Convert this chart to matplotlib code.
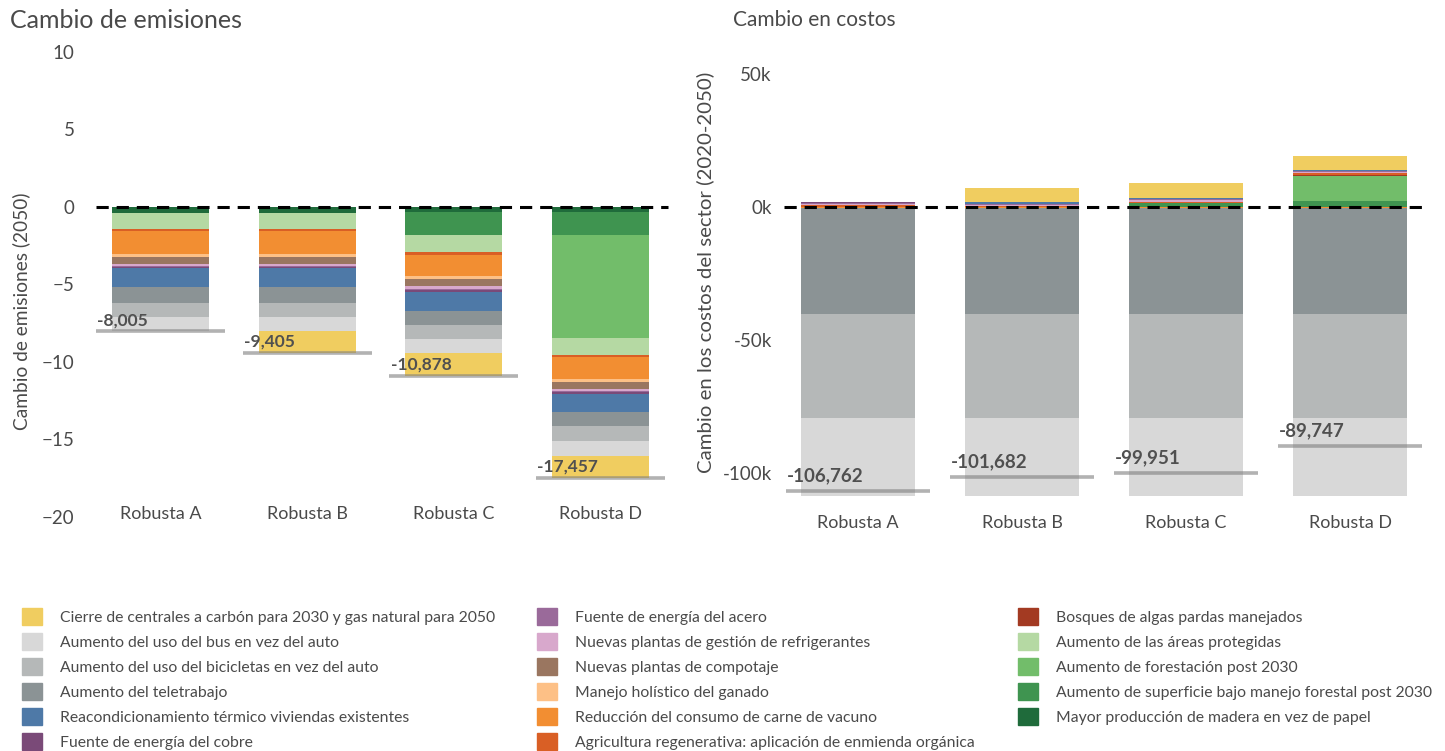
import numpy as np
import matplotlib
matplotlib.use("Agg")
import matplotlib.pyplot as plt
from matplotlib.patches import Patch

plt.rcParams['font.family'] = ['Lato', 'DejaVu Sans']

# ---------------------------------------------------------
#  Datos
# ---------------------------------------------------------
escenarios = ["Robusta A", "Robusta B", "Robusta C", "Robusta D"]

categorias = [
    "Cierre de centrales a carbón para 2030 y gas natural para 2050",
    "Aumento del uso del bus en vez del auto",
    "Aumento del uso del bicicletas en vez del auto",
    "Aumento del teletrabajo",
    "Reacondicionamiento térmico viviendas existentes",
    "Fuente de energía del cobre",
    "Fuente de energía del acero",
    "Nuevas plantas de gestión de refrigerantes",
    "Nuevas plantas de compotaje",
    "Manejo holístico del ganado",
    "Reducción del consumo de carne de vacuno",
    "Agricultura regenerativa: aplicación de enmienda orgánica",
    "Bosques de algas pardas manejados",
    "Aumento de las áreas protegidas",
    "Aumento de forestación post 2030",
    "Aumento de superficie bajo manejo forestal post 2030",
    "Mayor producción de madera en vez de papel",
]

colores = [
    "#f0cd60", "#d8d8d8", "#b5b8b8", "#8b9395", "#4e79a7", "#7a4a78",
    "#9a6a9a", "#d8a8cc", "#9a7660", "#fdc086", "#f28e32", "#d95f25",
    "#a33a22", "#b5d9a3", "#72bd6a", "#3f9450", "#1f6b3b",
]

# Cambio de emisiones (2050), miles, por escenario A-D
emisiones = [
    [0.0, -1.39, -1.46, -1.38],     # carbón
    [-0.91, -0.91, -0.91, -1.00],   # bus
    [-0.94, -0.94, -0.91, -0.96],   # bicicletas
    [-1.02, -1.02, -0.89, -0.91],   # teletrabajo
    [-1.23, -1.23, -1.23, -1.17],   # térmico
    [-0.06, -0.06, -0.11, -0.11],   # cobre
    [-0.05, -0.05, -0.08, -0.06],   # acero
    [-0.15, -0.15, -0.17, -0.11],   # refrigerantes
    [-0.46, -0.46, -0.47, -0.47],   # compostaje
    [-0.17, -0.17, -0.17, -0.21],   # holístico
    [-1.51, -1.51, -1.38, -1.42],   # carne
    [-0.08, -0.08, -0.21, -0.11],   # agricultura
    [0.0, 0.0, 0.0, 0.0],           # algas
    [-1.06, -1.06, -1.06, -1.12],   # áreas protegidas
    [0.0, 0.0, 0.0, -6.60],         # forestación
    [0.0, 0.0, -1.49, -1.49],       # superficie forestal
    [-0.38, -0.38, -0.34, -0.34],   # madera
]
total_emisiones = [-8005, -9405, -10878, -17457]

# Cambio en los costos del sector (2020-2050), miles
costos = [
    [0.0, 5.32, 5.45, 5.20],        # carbón
    [-29.6, -29.6, -29.6, -29.6],   # bus
    [-38.8, -38.8, -38.8, -38.8],   # bicicletas
    [-40.0, -40.0, -40.0, -40.0],   # teletrabajo
    [0.0, 0.5, 0.5, 0.35],          # térmico
    [0.44, 0.0, 0.0, 0.0],          # cobre
    [0.5, 0.4, 0.4, 0.4],           # acero
    [0.5, 0.4, 0.5, 0.5],           # refrigerantes
    [0.0, 0.0, 0.0, 0.0],           # compostaje
    [0.0, 0.0, 0.0, 0.0],           # holístico
    [-0.4, -0.4, -0.4, -0.4],       # carne
    [0.6, 0.5, 0.4, 0.6],           # agricultura
    [0.0, 0.0, 0.0, 0.4],           # algas
    [0.0, 0.0, 0.0, 0.0],           # áreas protegidas
    [0.0, 0.0, 0.0, 9.3],           # forestación
    [0.0, 0.0, 1.6, 2.3],           # superficie forestal
    [0.0, 0.0, 0.0, 0.0],           # madera
]
total_costos = [-106762, -101682, -99951, -89747]

TXT = "#4a4a4a"


def apilar(ax, datos, ancho):
    x = np.arange(len(escenarios))
    pos = np.zeros(len(escenarios))
    neg = np.zeros(len(escenarios))
    # el primer tramo junto al cero es el último de la leyenda
    for i in reversed(range(len(categorias))):
        v = np.array(datos[i], dtype=float)
        base = np.where(v >= 0, pos, neg)
        ax.bar(x, v, ancho, bottom=base, color=colores[i], linewidth=0, zorder=2)
        pos = pos + np.clip(v, 0, None)
        neg = neg + np.clip(v, None, 0)
    return x


def totales(ax, x, tot, escala, fs, dy):
    vals = np.array(tot) / escala
    ax.hlines(vals, x - 0.44, x + 0.44, color="#7f7f7f", alpha=0.6, lw=2.6, zorder=4)
    for xi, v, t in zip(x, vals, tot):
        ax.annotate(f"{t:,}", (xi - 0.44, v), xytext=(1, dy), textcoords="offset points",
                    ha="left", va="bottom", fontsize=fs, fontweight="bold", color="#505050", zorder=5)


fig = plt.figure(figsize=(14.45, 7.51), dpi=100)
W, H = 1445, 751

# ---------------- Cambio de emisiones ----------------
ax1 = fig.add_axes([87 / W, (H - 530) / H, (674 - 87) / W, (530 - 40) / H])
x = apilar(ax1, emisiones, 0.66)
totales(ax1, x, total_emisiones, 1000, 12.5, 2)
ax1.axhline(0, xmin=0.015, xmax=0.99, color="black", lw=2.2, ls=(0, (4, 2.6)), zorder=3)
ax1.set_xlim(-0.5, 3.5)
ax1.set_ylim(-(530 - 207) / 15.5, (207 - 40) / 15.5)
ax1.set_yticks([-20, -15, -10, -5, 0, 5, 10])
ax1.set_xticks(x, escenarios)
ax1.tick_params(axis="x", length=0, pad=-17, labelsize=13, labelcolor=TXT)
ax1.tick_params(axis="y", length=0, pad=9, labelsize=13.5, labelcolor=TXT)
ax1.set_ylabel("Cambio de emisiones (2050)", fontsize=13.8, color=TXT)
ax1.yaxis.set_label_coords(-0.097, 0.447)
for s in ax1.spines.values():
    s.set_visible(False)

# ---------------- Cambio en costos ----------------
ax2 = fig.add_axes([776 / W, (H - 505) / H, (1432 - 776) / W, (505 - 40) / H])
x = apilar(ax2, costos, 0.69)
totales(ax2, x, total_costos, 1000, 13.5, 5)
ax2.axhline(0, xmin=0.012, xmax=0.988, color="black", lw=2.2, ls=(0, (4, 2.6)), zorder=3)
ax2.set_xlim(-0.5, 3.5)
ax2.set_ylim(-(505 - 207) / 2.66, (207 - 40) / 2.66)
ticks = [-100, -50, 0, 50]
ax2.set_yticks(ticks, [f"{t}k" for t in ticks])
ax2.set_xticks(x, escenarios)
ax2.tick_params(axis="x", length=0, pad=7.5, labelsize=13, labelcolor=TXT)
ax2.tick_params(axis="y", length=0, pad=3, labelsize=13.5, labelcolor=TXT)
ax2.set_ylabel("Cambio en los costos del sector (2020-2050)", fontsize=14.7, color=TXT, labelpad=6)
for s in ax2.spines.values():
    s.set_visible(False)

fig.text(10 / W, 1 - 20 / H, "Cambio de emisiones", fontsize=18, color=TXT, va="center")
fig.text(733 / W, 1 - 20 / H, "Cambio en costos", fontsize=15, color=TXT, va="center")

# ---------------- Leyenda en tres columnas ----------------
handles = [Patch(color=c) for c in colores]
grupos = [(0, 6, 22), (6, 12, 537), (12, 17, 1018)]
for a, b, xpix in grupos:
    fig.legend(handles[a:b], categorias[a:b], loc="upper left",
               bbox_to_anchor=(xpix / W, 1 - 608 / H), frameon=False,
               fontsize=11.3, handlelength=1.3, handleheight=1.3,
               handletextpad=1.15, labelspacing=0.5, borderpad=0,
               borderaxespad=0, labelcolor=TXT)

fig.savefig("out.png", dpi=100)
